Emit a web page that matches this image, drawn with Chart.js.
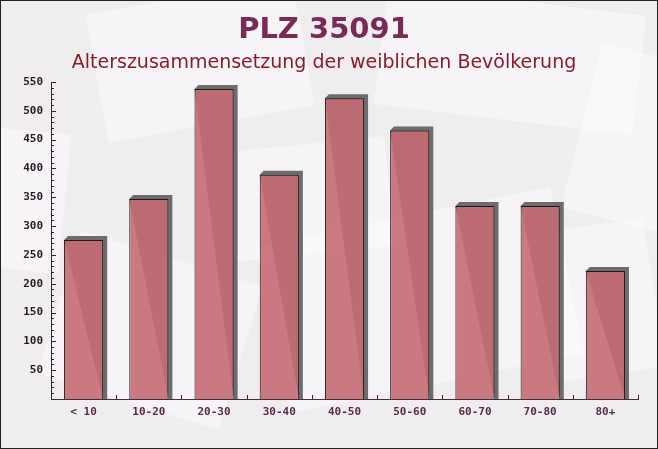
<!DOCTYPE html>
<html>
<head>
<meta charset="utf-8">
<script src="https://cdn.jsdelivr.net/npm/chart.js@4"></script>
<style>
html,body{margin:0;padding:0;background:#f0edef;}
canvas{display:block;}
</style>
</head>
<body>
<canvas id="c" width="658" height="449"></canvas>
<script>
const categories = ["< 10", "10-20", "20-30", "30-40", "40-50", "50-60", "60-70", "70-80", "80+"];
const values = [276, 347, 538, 389, 522, 466, 335, 335, 222];
const yTicks = [50, 100, 150, 200, 250, 300, 350, 400, 450, 500, 550];
const titleText = "PLZ 35091";
const subtitleText = "Alterszusammensetzung der weiblichen Bevölkerung";

const bgPlugin = {
  id: 'bg',
  beforeDraw(chart) {
    const ctx = chart.ctx;
    ctx.save();
    ctx.fillStyle = '#f0edef';
    ctx.fillRect(0, 0, chart.width, chart.height);
    const shapes = [
      [200, 60, 210, 130, -0.18],
      [510, 60, 260, 120, 0.12],
      [640, 140, 120, 170, 0.25],
      [420, 300, 300, 170, -0.2],
      [150, 330, 190, 150, 0.3],
      [20, 200, 90, 140, 0.1],
      [300, 200, 180, 110, -0.1],
      [600, 300, 110, 150, -0.15]
    ];
    ctx.fillStyle = 'rgba(255,255,255,0.42)';
    for (const [cx, cy, w, h, a] of shapes) {
      ctx.save();
      ctx.translate(cx, cy);
      ctx.rotate(a);
      ctx.fillRect(-w / 2, -h / 2, w, h);
      ctx.restore();
    }
    ctx.restore();
  }
};

const shadowPlugin = {
  id: 'shadow3d',
  beforeDatasetsDraw(chart) {
    const ctx = chart.ctx;
    const meta = chart.getDatasetMeta(0);
    const d = 4;
    ctx.save();
    ctx.fillStyle = 'rgba(85,85,85,0.85)';
    meta.data.forEach(bar => {
      const p = bar.getProps(['x', 'y', 'base', 'width'], true);
      const x1 = p.x - p.width / 2, x2 = p.x + p.width / 2;
      ctx.beginPath();
      ctx.moveTo(x1, p.y);
      ctx.lineTo(x1 + d, p.y - d);
      ctx.lineTo(x2 + d, p.y - d);
      ctx.lineTo(x2 + d, p.base);
      ctx.lineTo(x2, p.base);
      ctx.closePath();
      ctx.fill();
    });
    ctx.restore();
  },
  afterDraw(chart) {
    const ctx = chart.ctx;
    const y = chart.scales.y, x = chart.scales.x;
    const ax = chart.chartArea.left;
    ctx.save();
    ctx.strokeStyle = '#3a2233';
    ctx.lineWidth = 1;
    ctx.beginPath();
    for (let v = 0; v <= 550; v += 10) {
      const py = Math.round(y.getPixelForValue(v)) + 0.5;
      const len = (v % 50 === 0) ? 5 : 3;
      ctx.moveTo(ax, py);
      ctx.lineTo(ax + len, py);
    }
    const n = categories.length;
    const bottom = chart.chartArea.bottom;
    for (let i = 1; i <= n; i++) {
      const px = i === n ? chart.chartArea.right
        : (x.getPixelForValue(i - 1) + x.getPixelForValue(i)) / 2;
      ctx.moveTo(Math.round(px) + 0.5, bottom);
      ctx.lineTo(Math.round(px) + 0.5, bottom - 4);
    }
    ctx.stroke();
    ctx.strokeStyle = '#222';
    ctx.strokeRect(0.5, 0.5, chart.width - 1, chart.height - 1);
    ctx.restore();
  }
};

new Chart(document.getElementById('c'), {
  type: 'bar',
  data: {
    labels: categories,
    datasets: [{
      data: values,
      backgroundColor: 'rgba(198,108,116,0.9)',
      borderColor: '#1a1a1a',
      borderWidth: 1,
      categoryPercentage: 1.0,
      barPercentage: 0.6
    }]
  },
  options: {
    responsive: false,
    animation: false,
    devicePixelRatio: 1,
    layout: { padding: { left: 10, right: 20, top: 0, bottom: 0 } },
    plugins: {
      legend: { display: false },
      tooltip: { enabled: false },
      title: {
        display: true,
        text: titleText,
        color: '#7a2a55',
        font: { family: 'DejaVu Sans', size: 29, weight: 'bold', lineHeight: 1.2 },
        padding: { top: 13, bottom: 0 }
      },
      subtitle: {
        display: true,
        text: subtitleText,
        color: '#8b1a2c',
        font: { family: 'DejaVu Sans', size: 19, weight: 'normal', lineHeight: 1.2 },
        padding: { top: 4, bottom: 7.4 }
      }
    },
    scales: {
      x: {
        offset: true,
        grid: { display: false, drawTicks: false },
        border: { display: true, color: '#4a2a40', width: 1 },
        ticks: {
          color: '#5a2a4c',
          font: { family: 'DejaVu Sans Mono', size: 11, weight: 'bold' },
          padding: 7,
          maxRotation: 0
        },
        afterFit(s) { s.height = 50; }
      },
      y: {
        min: 0,
        max: 550,
        afterBuildTicks(s) { s.ticks = yTicks.map(v => ({ value: v })); },
        grid: { display: false, drawTicks: false },
        border: { display: true, color: '#3a2233', width: 1 },
        ticks: {
          color: '#2a1a24',
          font: { family: 'DejaVu Sans Mono', size: 11, weight: 'bold' },
          padding: 8
        },
        afterFit(s) { s.width = 41; }
      }
    }
  },
  plugins: [bgPlugin, shadowPlugin]
});
</script>
</body>
</html>
